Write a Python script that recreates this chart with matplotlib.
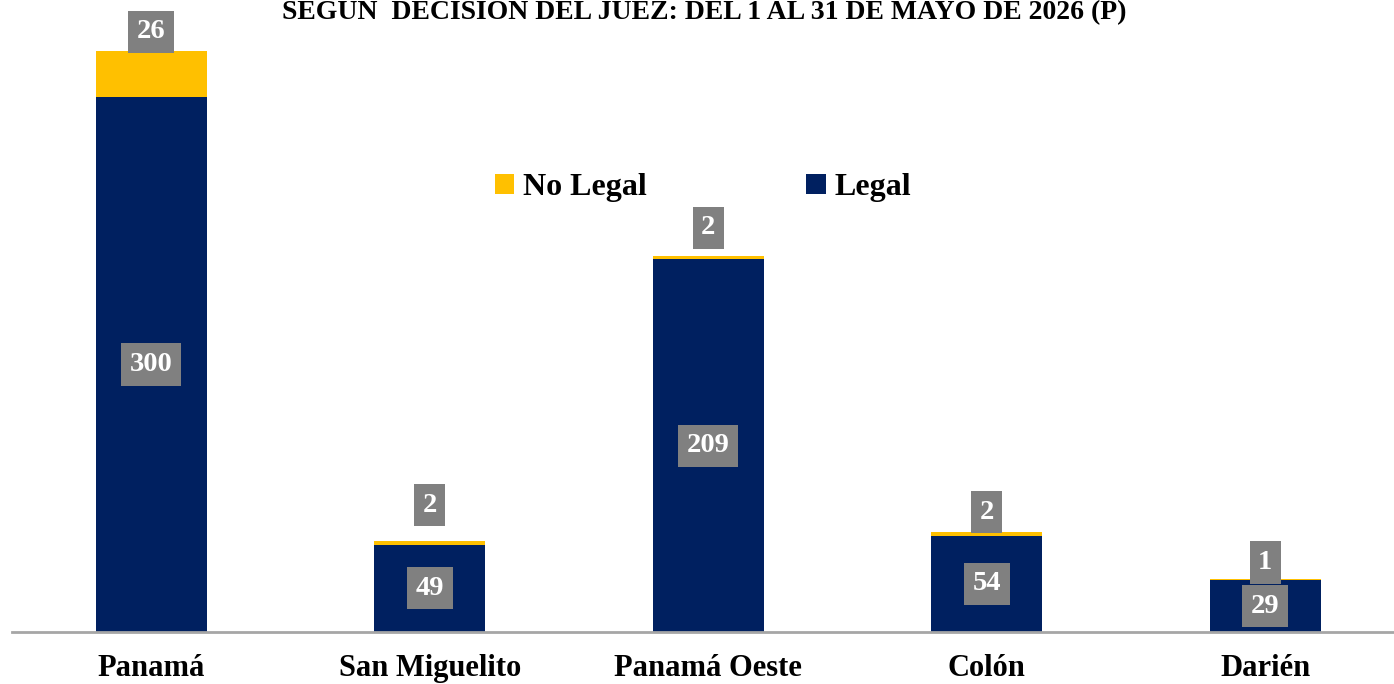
import matplotlib
matplotlib.use("Agg")
import matplotlib.pyplot as plt
from matplotlib.patches import Patch
import numpy as np

categories = ["Panamá", "San Miguelito", "Panamá Oeste", "Colón", "Darién"]
legal = [300, 49, 209, 54, 29]
no_legal = [26, 2, 2, 2, 1]
title = "SEGÚN  DECISIÓN DEL JUEZ: DEL 1 AL 31 DE MAYO DE 2026 (P)"

# style: pixel offset of the "No Legal" labels above each bar top
nl_offsets_px = [19, 36, 28, 20, 16]

NAVY = "#002060"
GOLD = "#FFC000"
GRAY = "#808080"
FONT = "Liberation Serif"

fig = plt.figure(figsize=(13.94, 6.84), dpi=100)
W, H = 1394, 684
ax = fig.add_axes([12 / W, 52 / H, 1392.5 / W, 632 / H])

x = np.arange(len(categories))
bw = 0.40
ax.bar(x, legal, width=bw, color=NAVY, zorder=2)
ax.bar(x, no_legal, width=bw, bottom=legal, color=GOLD, zorder=2)

ax.set_xlim(-0.5, 4.5)
ax.set_ylim(0, 354.4)

box = dict(boxstyle="square,pad=0.3", facecolor=GRAY, edgecolor="none")
for xi, lv, nv, off in zip(x, legal, no_legal, nl_offsets_px):
    ax.text(xi, lv / 2, str(lv), ha="center", va="center", color="white",
            fontsize=20.5, fontweight="bold", family=FONT, bbox=box, zorder=3)
    ax.annotate(str(nv), xy=(xi, lv + nv), xytext=(0, off),
                textcoords="offset pixels", ha="center", va="center",
                color="white", fontsize=20.5, fontweight="bold", family=FONT,
                bbox=box, zorder=3)

ax.set_xticks(x)
ax.set_xticklabels(categories, fontsize=22, fontweight="bold", family=FONT)
ax.tick_params(axis="x", length=0, pad=16)
ax.set_yticks([])
for s in ["top", "left", "right"]:
    ax.spines[s].set_visible(False)
ax.spines["bottom"].set_color("#A6A6A6")
ax.spines["bottom"].set_linewidth(2)
ax.spines["bottom"].set_zorder(4)

handles = [Patch(facecolor=GOLD, label="No Legal"), Patch(facecolor=NAVY, label="Legal")]
fig.legend(handles=handles, loc="center", bbox_to_anchor=(703 / W, 1 - 188 / H),
           ncol=2, frameon=False, handlelength=0.6, handleheight=0.6,
           handletextpad=0.28, columnspacing=5.0,
           prop=dict(family=FONT, weight="bold", size=23))

fig.text(704 / W, 1 - 18 / H, title, ha="center", va="baseline",
         fontsize=20, fontweight="bold", family=FONT)

fig.savefig("out.png", dpi=100)
